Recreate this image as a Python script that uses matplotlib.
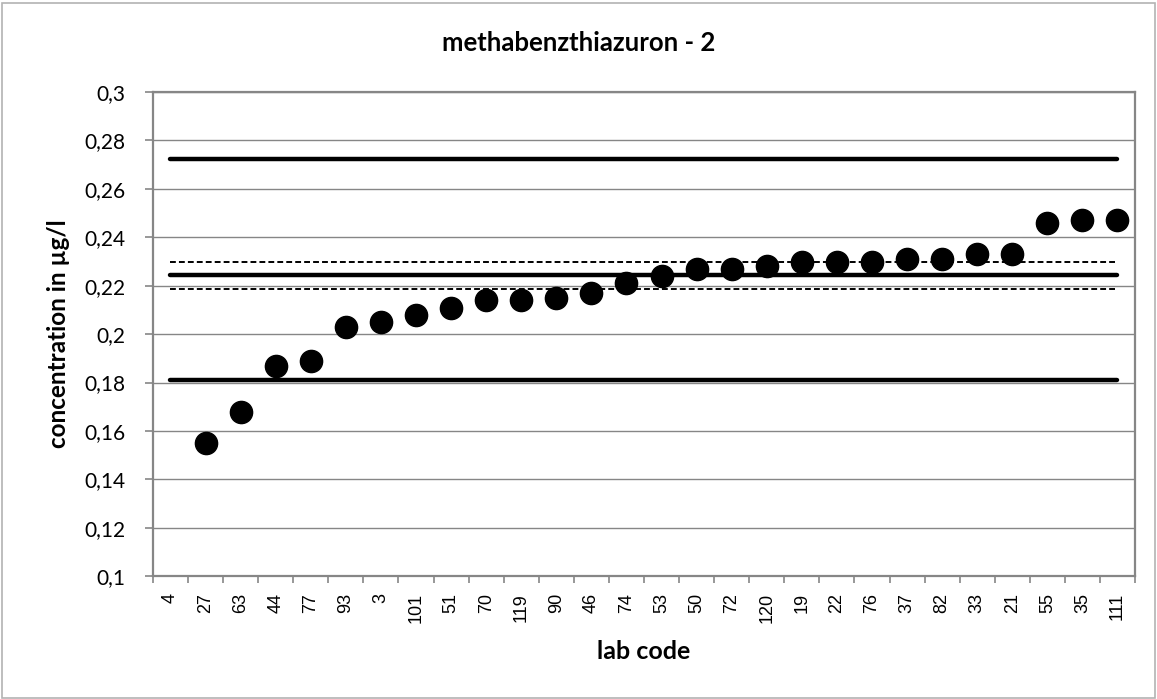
import numpy as np
import matplotlib.pyplot as plt
from matplotlib.patches import Rectangle

# lab codes in plotted order and measured concentrations (lab 4 has no value shown)
labs = ["4", "27", "63", "44", "77", "93", "3", "101", "51", "70", "119", "90", "46", "74",
        "53", "50", "72", "120", "19", "22", "76", "37", "82", "33", "21", "55", "35", "111"]
values = [np.nan, 0.155, 0.168, 0.187, 0.189, 0.203, 0.205, 0.208, 0.211, 0.214, 0.214, 0.215,
          0.217, 0.221, 0.224, 0.227, 0.227, 0.228, 0.230, 0.230, 0.230, 0.231, 0.231, 0.233,
          0.233, 0.246, 0.247, 0.247]

# reference levels
assigned = 0.2245
upper_limit = 0.2725
lower_limit = 0.181
unc_upper = 0.2299
unc_lower = 0.2188

calibri_like = ["Lato", "DejaVu Sans"]

fig = plt.figure(figsize=(11.57, 6.99), dpi=100)
ax = fig.add_axes([0.1322, 0.1755, 0.9810 - 0.1322, 0.8684 - 0.1755])

x = np.arange(len(labs))
n = len(labs)

for lvl in (upper_limit, assigned, lower_limit):
    ax.plot(x, [lvl] * n, color="black", lw=3.2, solid_capstyle="round", zorder=3)
for lvl in (unc_upper, unc_lower):
    ax.plot(x, [lvl] * n, color="black", lw=1.4, ls=(0, (3, 1.6)), zorder=3)

ax.plot(x, values, ls="none", marker="o", ms=16, color="black", zorder=4)

ax.set_xlim(-0.5, n - 0.5)
ax.set_ylim(0.1, 0.3)
yt = np.arange(0.1, 0.3001, 0.02)
ax.set_yticks(yt)
ax.set_yticklabels([f"{v:.2f}".rstrip("0").replace(".", ",") for v in yt],
                   family=calibri_like, fontsize=15)
ax.set_xticks(x)
ax.set_xticklabels(labs, rotation=90, family="Liberation Sans", fontsize=13)
ax.set_xticks(np.arange(-0.5, n, 1), minor=True)
ax.tick_params(axis="x", which="major", length=0, pad=12)
ax.tick_params(axis="x", which="minor", length=5, width=1.2, color="#868686")
ax.tick_params(axis="y", length=6, width=1.2, color="#868686", pad=14)

ax.grid(axis="y", color="#868686", lw=1.0)
ax.set_axisbelow(True)
for s in ax.spines.values():
    s.set_color("#868686")
    s.set_linewidth(1.6)

fig.text(0.5, 1 - 43 / 699, "methabenzthiazuron - 2", family=calibri_like, fontweight="bold",
         fontsize=18.5, ha="center", va="center")
ax.set_ylabel("concentration in µg/l", family=calibri_like, fontweight="bold", fontsize=17.5, labelpad=10)
ax.set_xlabel("lab code", family=calibri_like, fontweight="bold", fontsize=18, labelpad=12)

fig.patches.append(Rectangle((0.002, 0.002), 0.996, 0.994, transform=fig.transFigure,
                             fill=False, edgecolor="#b3b3b3", lw=1.2))

fig.savefig("out.png", dpi=100)
